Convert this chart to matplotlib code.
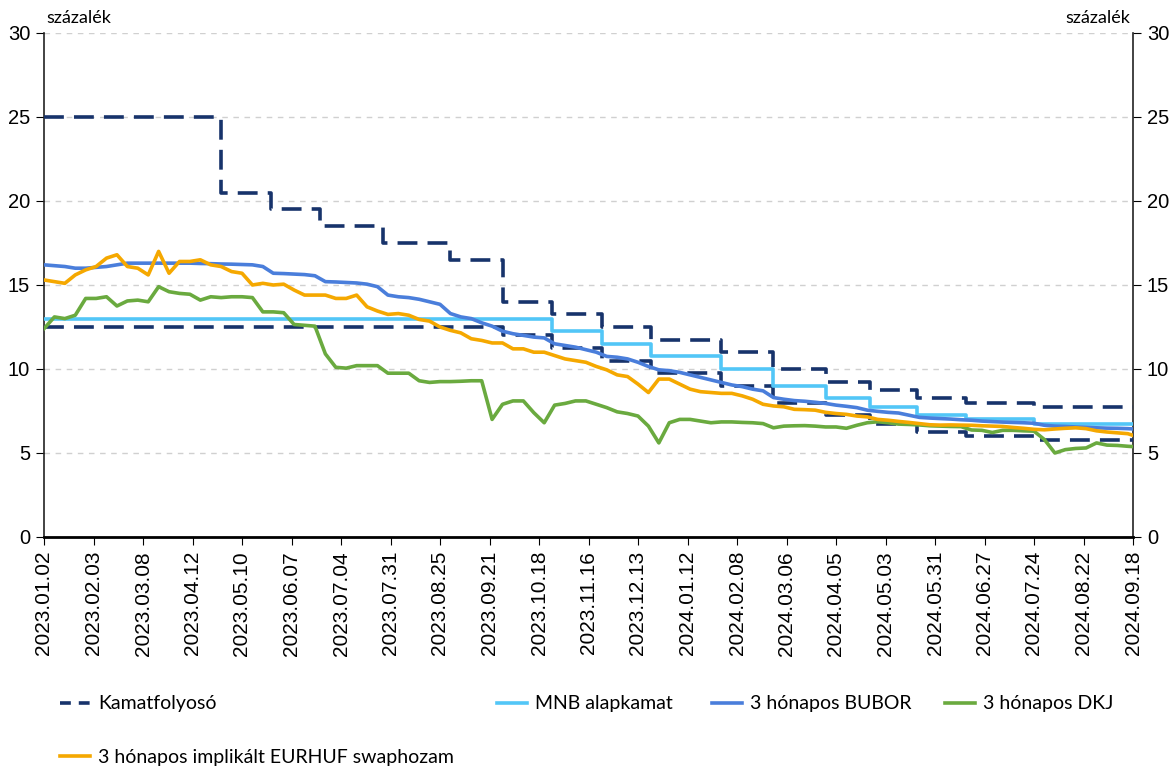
import matplotlib
matplotlib.use('Agg')
import matplotlib.pyplot as plt
from matplotlib.lines import Line2D
import numpy as np

# x axis: trading days, a label every 19 days
date_labels = ['2023.01.02', '2023.02.03', '2023.03.08', '2023.04.12', '2023.05.10',
               '2023.06.07', '2023.07.04', '2023.07.31', '2023.08.25', '2023.09.21',
               '2023.10.18', '2023.11.16', '2023.12.13', '2024.01.12', '2024.02.08',
               '2024.03.06', '2024.04.05', '2024.05.03', '2024.05.31', '2024.06.27',
               '2024.07.24', '2024.08.22', '2024.09.18']
days_per_label = 19
last_day = 418

# policy rates (trading day of change, level from that day)
change_day = [0, 68, 87, 106, 130, 156, 176, 195, 214, 233, 260, 280, 300, 317, 335, 354, 380]
upper_corridor = [25, 20.5, 19.5, 18.5, 17.5, 16.5, 14, 13.25, 12.5, 11.75, 11, 10, 9.25,
                  8.75, 8.25, 8, 7.75]
lower_corridor = [12.5, 12.5, 12.5, 12.5, 12.5, 12.5, 12, 11.25, 10.5, 9.75, 9, 8, 7.25,
                  6.75, 6.25, 6, 5.75]
base_rate = [13, 13, 13, 13, 13, 13, 13, 12.25, 11.5, 10.75, 10, 9, 8.25, 7.75, 7.25, 7,
             6.75]

# market yields, read every 4th trading day
sample_day = list(range(0, 417, 4)) + [418]
bubor = [16.2, 16.15, 16.1, 16.0, 16.0, 16.05, 16.1, 16.2, 16.3, 16.3,
         16.3, 16.3, 16.3, 16.3, 16.3, 16.28, 16.27, 16.25, 16.24, 16.22,
         16.2, 16.1, 15.7, 15.68, 15.65, 15.62, 15.55, 15.2, 15.18, 15.15,
         15.12, 15.05, 14.9, 14.4, 14.3, 14.25, 14.15, 14.0, 13.85, 13.3,
         13.1, 13.0, 12.75, 12.55, 12.25, 12.1, 12.0, 11.9, 11.85, 11.5,
         11.4, 11.3, 11.15, 11.0, 10.75, 10.7, 10.6, 10.4, 10.15, 9.95,
         9.9, 9.8, 9.65, 9.5, 9.35, 9.2, 9.05, 8.95, 8.8, 8.7,
         8.3, 8.2, 8.12, 8.08, 8.02, 7.95, 7.85, 7.78, 7.7, 7.55,
         7.48, 7.42, 7.38, 7.25, 7.12, 7.08, 7.05, 7.02, 6.98, 6.95,
         6.9, 6.87, 6.84, 6.82, 6.8, 6.77, 6.65, 6.6, 6.58, 6.55,
         6.53, 6.5, 6.48, 6.47, 6.45, 6.43]
dkj = [12.4, 13.1, 13.0, 13.2, 14.2, 14.2, 14.3, 13.75, 14.05, 14.1,
       14.0, 14.9, 14.6, 14.5, 14.45, 14.1, 14.3, 14.25, 14.3, 14.3,
       14.25, 13.4, 13.4, 13.35, 12.65, 12.6, 12.55, 10.9, 10.1, 10.05,
       10.2, 10.2, 10.2, 9.75, 9.75, 9.75, 9.3, 9.2, 9.25, 9.25,
       9.27, 9.3, 9.3, 7.0, 7.9, 8.1, 8.1, 7.4, 6.8, 7.85,
       7.95, 8.1, 8.1, 7.9, 7.7, 7.45, 7.35, 7.2, 6.6, 5.6,
       6.8, 7.0, 7.0, 6.9, 6.8, 6.85, 6.85, 6.82, 6.8, 6.75,
       6.5, 6.6, 6.62, 6.63, 6.6, 6.55, 6.55, 6.47, 6.65, 6.8,
       6.86, 6.8, 6.72, 6.7, 6.67, 6.62, 6.6, 6.58, 6.57, 6.37,
       6.35, 6.22, 6.35, 6.35, 6.32, 6.3, 5.8, 5.0, 5.2, 5.27,
       5.3, 5.6, 5.47, 5.45, 5.4, 5.38]
swap = [15.3, 15.2, 15.1, 15.6, 15.9, 16.1, 16.6, 16.8, 16.1, 16.0,
        15.6, 17.0, 15.7, 16.4, 16.4, 16.5, 16.2, 16.1, 15.8, 15.7,
        15.0, 15.1, 15.0, 15.05, 14.7, 14.4, 14.4, 14.4, 14.2, 14.2,
        14.4, 13.7, 13.45, 13.25, 13.3, 13.2, 12.95, 12.85, 12.5, 12.3,
        12.15, 11.8, 11.7, 11.55, 11.55, 11.2, 11.2, 11.0, 11.0, 10.8,
        10.6, 10.5, 10.4, 10.15, 9.95, 9.65, 9.55, 9.1, 8.6, 9.4,
        9.4, 9.1, 8.8, 8.65, 8.6, 8.55, 8.55, 8.4, 8.2, 7.9,
        7.8, 7.75, 7.6, 7.58, 7.55, 7.42, 7.35, 7.3, 7.2, 7.15,
        7.0, 6.95, 6.88, 6.82, 6.75, 6.68, 6.66, 6.67, 6.66, 6.65,
        6.62, 6.6, 6.58, 6.52, 6.47, 6.41, 6.38, 6.43, 6.47, 6.5,
        6.45, 6.32, 6.25, 6.2, 6.15, 6.05]

navy = '#17336B'
light_blue = '#52C6F7'
blue = '#4A7EDB'
green = '#6AAA3F'
orange = '#F5A800'

fig = plt.figure(figsize=(11.74, 7.69), dpi=100)
ax = fig.add_axes([44 / 1174, 1 - 537 / 769, (1133 - 44) / 1174, (537 - 33) / 769])

step_x = change_day + [last_day]
dash = (0, (5.5, 2.8))
ax.plot(step_x, upper_corridor + [upper_corridor[-1]], drawstyle='steps-post',
        color=navy, lw=2.6, linestyle=dash, zorder=3)
ax.plot(step_x, lower_corridor + [lower_corridor[-1]], drawstyle='steps-post',
        color=navy, lw=2.6, linestyle=dash, zorder=3)
ax.plot(step_x, base_rate + [base_rate[-1]], drawstyle='steps-post',
        color=light_blue, lw=2.6, zorder=4)
ax.plot(sample_day, bubor, color=blue, lw=2.6, zorder=5)
ax.plot(sample_day, dkj, color=green, lw=2.6, zorder=5)
ax.plot(sample_day, swap, color=orange, lw=2.6, zorder=6)

ax.set_xlim(0, last_day)
ax.set_ylim(0, 30)
ax.set_xticks(np.arange(0, last_day + 1, days_per_label))
ax.set_xticklabels(date_labels, rotation=90, fontsize=15, family='Liberation Sans')
ax.set_yticks(np.arange(0, 31, 5))
ax.tick_params(axis='y', direction='out', length=6, labelsize=14.5, left=True,
               right=True, labelleft=True, labelright=True, pad=4)
ax.tick_params(axis='x', direction='out', length=6, pad=4)
for lab in ax.get_yticklabels():
    lab.set_family('Liberation Sans')

ax.yaxis.grid(True, color='#d0d0d0', linestyle=(0, (4, 4)), lw=1)
ax.set_axisbelow(True)
ax.spines['top'].set_visible(False)
for s in ['left', 'right']:
    ax.spines[s].set_color('#222222')
    ax.spines[s].set_linewidth(1.2)
ax.spines['bottom'].set_linewidth(2)

ax.annotate('százalék', xy=(0, 1), xycoords='axes fraction', xytext=(2, 5),
            textcoords='offset points', ha='left', va='bottom', fontsize=13, family='Lato')
ax.annotate('százalék', xy=(1, 1), xycoords='axes fraction', xytext=(-2, 5),
            textcoords='offset points', ha='right', va='bottom', fontsize=13, family='Lato')

# legend entries placed like the Excel legend
entries = [
    (Line2D([], [], color=navy, lw=2.6, linestyle=(0, (3.0, 2.2))), 'Kamatfolyosó', 60, 704),
    (Line2D([], [], color=light_blue, lw=2.6), 'MNB alapkamat', 497, 704),
    (Line2D([], [], color=blue, lw=2.6), '3 hónapos BUBOR', 712, 704),
    (Line2D([], [], color=green, lw=2.6), '3 hónapos DKJ', 945, 704),
    (Line2D([], [], color=orange, lw=2.6), '3 hónapos implikált EURHUF swaphozam', 60, 757),
]
for handle, label, px, py in entries:
    leg = fig.legend([handle], [label], loc='center left',
                     bbox_to_anchor=(px / 1174, 1 - py / 769), frameon=False,
                     borderpad=0, borderaxespad=0, handlelength=1.55, handletextpad=0.4,
                     prop={'family': 'Lato', 'size': 14})

fig.savefig('out.png', dpi=100)
